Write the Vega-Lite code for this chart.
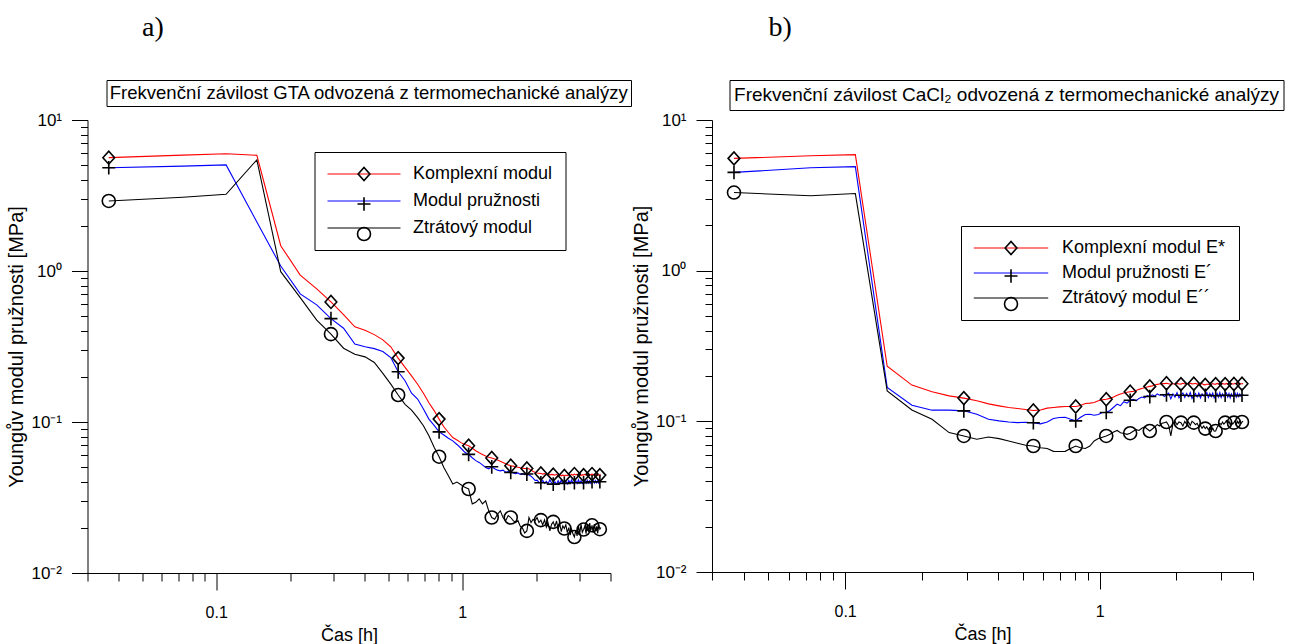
{
  "$schema": "https://vega.github.io/schema/vega-lite/v6.json",
  "padding": {"left": 6.5, "top": 13, "right": 4, "bottom": 2},
  "spacing": 0,
  "resolve": {
    "scale": {"color": "independent", "shape": "independent"},
    "legend": {"color": "independent", "shape": "independent"}
  },
  "datasets": {
    "gta": [
      {"t": 0.0366, "k": 5.63, "p": 4.83, "z": 2.91},
      {"t": 0.0732, "k": 5.85, "p": 4.95, "z": 3.08},
      {"t": 0.1097, "k": 5.98, "p": 5.04, "z": 3.22},
      {"t": 0.1463, "k": 5.84, "p": 2.11, "z": 5.45},
      {"t": 0.1829, "k": 1.47, "p": 1.08, "z": 0.99},
      {"t": 0.2195, "k": 0.94, "p": 0.705, "z": 0.667},
      {"t": 0.2561, "k": 0.762, "p": 0.597, "z": 0.4725},
      {"t": 0.2926, "k": 0.624, "p": 0.484, "z": 0.382},
      {"t": 0.3292, "k": 0.515, "p": 0.418, "z": 0.308},
      {"t": 0.3658, "k": 0.427, "p": 0.328, "z": 0.281},
      {"t": 0.4024, "k": 0.405, "p": 0.315, "z": 0.27},
      {"t": 0.439, "k": 0.379, "p": 0.306, "z": 0.248},
      {"t": 0.4755, "k": 0.35, "p": 0.293, "z": 0.21},
      {"t": 0.5121, "k": 0.315, "p": 0.267, "z": 0.178},
      {"t": 0.5487, "k": 0.265, "p": 0.215, "z": 0.151},
      {"t": 0.5853, "k": 0.23, "p": 0.1875, "z": 0.131},
      {"t": 0.6219, "k": 0.202, "p": 0.155, "z": 0.12},
      {"t": 0.6584, "k": 0.178, "p": 0.142, "z": 0.107},
      {"t": 0.695, "k": 0.155, "p": 0.122, "z": 0.0944},
      {"t": 0.7316, "k": 0.134, "p": 0.1045, "z": 0.081},
      {"t": 0.7682, "k": 0.119, "p": 0.095, "z": 0.068},
      {"t": 0.8048, "k": 0.1045, "p": 0.086, "z": 0.0589},
      {"t": 0.8413, "k": 0.093, "p": 0.082, "z": 0.05},
      {"t": 0.8779, "k": 0.0852, "p": 0.078, "z": 0.044},
      {"t": 0.9145, "k": 0.0789, "p": 0.075, "z": 0.0388},
      {"t": 0.9511, "k": 0.076, "p": 0.071, "z": 0.04},
      {"t": 0.9877, "k": 0.073, "p": 0.067, "z": 0.0384},
      {"t": 1.0242, "k": 0.071, "p": 0.063, "z": 0.0369},
      {"t": 1.0608, "k": 0.0696, "p": 0.061, "z": 0.036},
      {"t": 1.0974, "k": 0.067, "p": 0.058, "z": 0.0287},
      {"t": 1.134, "k": 0.0645, "p": 0.0555, "z": 0.0294},
      {"t": 1.1706, "k": 0.0625, "p": 0.054, "z": 0.031},
      {"t": 1.2071, "k": 0.061, "p": 0.052, "z": 0.0287},
      {"t": 1.2437, "k": 0.0595, "p": 0.05, "z": 0.0301},
      {"t": 1.2803, "k": 0.0585, "p": 0.049, "z": 0.0258},
      {"t": 1.3169, "k": 0.0577, "p": 0.0505, "z": 0.0233},
      {"t": 1.3535, "k": 0.0568, "p": 0.049, "z": 0.0227},
      {"t": 1.39, "k": 0.056, "p": 0.048, "z": 0.0245},
      {"t": 1.4266, "k": 0.055, "p": 0.0475, "z": 0.0258},
      {"t": 1.4632, "k": 0.054, "p": 0.048, "z": 0.0233},
      {"t": 1.4998, "k": 0.053, "p": 0.0465, "z": 0.0222},
      {"t": 1.5364, "k": 0.052, "p": 0.047, "z": 0.024},
      {"t": 1.5729, "k": 0.0513, "p": 0.0463, "z": 0.0233},
      {"t": 1.6095, "k": 0.051, "p": 0.046, "z": 0.0222},
      {"t": 1.6461, "k": 0.0505, "p": 0.0455, "z": 0.0216},
      {"t": 1.6827, "k": 0.0502, "p": 0.046, "z": 0.0222},
      {"t": 1.7193, "k": 0.0498, "p": 0.045, "z": 0.0204},
      {"t": 1.7558, "k": 0.0495, "p": 0.0455, "z": 0.0198},
      {"t": 1.7924, "k": 0.0492, "p": 0.0448, "z": 0.0184},
      {"t": 1.829, "k": 0.0492, "p": 0.0452, "z": 0.019},
      {"t": 1.8656, "k": 0.049, "p": 0.0445, "z": 0.0233},
      {"t": 1.9022, "k": 0.048, "p": 0.0438, "z": 0.0216},
      {"t": 1.9387, "k": 0.047, "p": 0.0425, "z": 0.0227},
      {"t": 1.9753, "k": 0.0465, "p": 0.041, "z": 0.0222},
      {"t": 2.0119, "k": 0.046, "p": 0.0412, "z": 0.0233},
      {"t": 2.0485, "k": 0.0458, "p": 0.0398, "z": 0.0216},
      {"t": 2.0851, "k": 0.0456, "p": 0.0396, "z": 0.0224},
      {"t": 2.1216, "k": 0.0452, "p": 0.041, "z": 0.0208},
      {"t": 2.1582, "k": 0.0455, "p": 0.0392, "z": 0.0225},
      {"t": 2.1948, "k": 0.0448, "p": 0.0405, "z": 0.0201},
      {"t": 2.2314, "k": 0.0452, "p": 0.039, "z": 0.0214},
      {"t": 2.268, "k": 0.0446, "p": 0.0415, "z": 0.019},
      {"t": 2.3045, "k": 0.045, "p": 0.0395, "z": 0.021},
      {"t": 2.3411, "k": 0.0448, "p": 0.0388, "z": 0.0218},
      {"t": 2.3777, "k": 0.0444, "p": 0.0402, "z": 0.0203},
      {"t": 2.4143, "k": 0.045, "p": 0.0386, "z": 0.0221},
      {"t": 2.4509, "k": 0.0442, "p": 0.0408, "z": 0.0195},
      {"t": 2.4874, "k": 0.0447, "p": 0.0391, "z": 0.0212},
      {"t": 2.524, "k": 0.044, "p": 0.0412, "z": 0.0188},
      {"t": 2.5606, "k": 0.0446, "p": 0.0393, "z": 0.0205},
      {"t": 2.5972, "k": 0.0439, "p": 0.0392, "z": 0.0197},
      {"t": 2.6338, "k": 0.0445, "p": 0.0406, "z": 0.0209},
      {"t": 2.6703, "k": 0.0441, "p": 0.0389, "z": 0.0185},
      {"t": 2.7069, "k": 0.0448, "p": 0.041, "z": 0.02},
      {"t": 2.7435, "k": 0.0443, "p": 0.0394, "z": 0.0178},
      {"t": 2.7801, "k": 0.045, "p": 0.0413, "z": 0.0195},
      {"t": 2.8167, "k": 0.0444, "p": 0.0392, "z": 0.0181},
      {"t": 2.8532, "k": 0.0452, "p": 0.0396, "z": 0.0173},
      {"t": 2.8898, "k": 0.0446, "p": 0.0409, "z": 0.0192},
      {"t": 2.9264, "k": 0.0451, "p": 0.0391, "z": 0.0176},
      {"t": 2.963, "k": 0.0443, "p": 0.0414, "z": 0.0206},
      {"t": 2.9996, "k": 0.0449, "p": 0.0395, "z": 0.0183},
      {"t": 3.0361, "k": 0.0442, "p": 0.0407, "z": 0.021},
      {"t": 3.0727, "k": 0.0448, "p": 0.039, "z": 0.0186},
      {"t": 3.1093, "k": 0.0445, "p": 0.0396, "z": 0.0194},
      {"t": 3.1459, "k": 0.045, "p": 0.041, "z": 0.0204},
      {"t": 3.1825, "k": 0.0443, "p": 0.0393, "z": 0.0182},
      {"t": 3.219, "k": 0.0449, "p": 0.0412, "z": 0.0209},
      {"t": 3.2556, "k": 0.0444, "p": 0.0395, "z": 0.0188},
      {"t": 3.2922, "k": 0.0451, "p": 0.0408, "z": 0.0214},
      {"t": 3.3288, "k": 0.0445, "p": 0.0392, "z": 0.0192},
      {"t": 3.3654, "k": 0.0452, "p": 0.0402, "z": 0.0207},
      {"t": 3.4019, "k": 0.0446, "p": 0.0411, "z": 0.0185},
      {"t": 3.4385, "k": 0.045, "p": 0.0394, "z": 0.0211},
      {"t": 3.4751, "k": 0.0443, "p": 0.041, "z": 0.0189},
      {"t": 3.5117, "k": 0.0449, "p": 0.0396, "z": 0.0204},
      {"t": 3.5483, "k": 0.0442, "p": 0.0408, "z": 0.0183},
      {"t": 3.5848, "k": 0.0448, "p": 0.0393, "z": 0.0209},
      {"t": 3.6214, "k": 0.0445, "p": 0.0402, "z": 0.0195},
      {"t": 3.658, "k": 0.0447, "p": 0.0405, "z": 0.02}
    ],
    "cacl2": [
      {"t": 0.0366, "k": 5.56, "p": 4.49, "z": 3.3},
      {"t": 0.0732, "k": 5.79, "p": 4.82, "z": 3.14},
      {"t": 0.1097, "k": 5.89, "p": 4.9, "z": 3.25},
      {"t": 0.1463, "k": 0.232, "p": 0.168, "z": 0.1594},
      {"t": 0.1829, "k": 0.174, "p": 0.128, "z": 0.119},
      {"t": 0.2195, "k": 0.157, "p": 0.1186, "z": 0.1032},
      {"t": 0.2561, "k": 0.1476, "p": 0.1186, "z": 0.0842},
      {"t": 0.2926, "k": 0.1426, "p": 0.1174, "z": 0.08},
      {"t": 0.3292, "k": 0.1368, "p": 0.1114, "z": 0.076},
      {"t": 0.3658, "k": 0.1306, "p": 0.1032, "z": 0.0787},
      {"t": 0.4024, "k": 0.1267, "p": 0.1007, "z": 0.0768},
      {"t": 0.439, "k": 0.1236, "p": 0.0991, "z": 0.0741},
      {"t": 0.4755, "k": 0.1217, "p": 0.0981, "z": 0.0715},
      {"t": 0.5121, "k": 0.1198, "p": 0.0985, "z": 0.0693},
      {"t": 0.5487, "k": 0.118, "p": 0.0978, "z": 0.0686},
      {"t": 0.5853, "k": 0.119, "p": 0.0962, "z": 0.0668},
      {"t": 0.6219, "k": 0.1223, "p": 0.0991, "z": 0.066},
      {"t": 0.6584, "k": 0.1236, "p": 0.1045, "z": 0.0632},
      {"t": 0.695, "k": 0.1247, "p": 0.106, "z": 0.063},
      {"t": 0.7316, "k": 0.1255, "p": 0.1065, "z": 0.0632},
      {"t": 0.7682, "k": 0.1255, "p": 0.1032, "z": 0.066},
      {"t": 0.8048, "k": 0.1255, "p": 0.1007, "z": 0.0686},
      {"t": 0.8413, "k": 0.1273, "p": 0.1065, "z": 0.0668},
      {"t": 0.8779, "k": 0.1314, "p": 0.111, "z": 0.066},
      {"t": 0.9145, "k": 0.132, "p": 0.1114, "z": 0.0686},
      {"t": 0.9511, "k": 0.1333, "p": 0.1097, "z": 0.0741},
      {"t": 0.9877, "k": 0.1368, "p": 0.111, "z": 0.0768},
      {"t": 1.0242, "k": 0.139, "p": 0.1144, "z": 0.0785},
      {"t": 1.0608, "k": 0.14, "p": 0.1144, "z": 0.08},
      {"t": 1.0974, "k": 0.142, "p": 0.118, "z": 0.082},
      {"t": 1.134, "k": 0.145, "p": 0.124, "z": 0.085},
      {"t": 1.1706, "k": 0.149, "p": 0.13, "z": 0.087},
      {"t": 1.2071, "k": 0.152, "p": 0.127, "z": 0.084},
      {"t": 1.2437, "k": 0.154, "p": 0.135, "z": 0.083},
      {"t": 1.2803, "k": 0.156, "p": 0.132, "z": 0.082},
      {"t": 1.3169, "k": 0.157, "p": 0.138, "z": 0.0834},
      {"t": 1.3535, "k": 0.158, "p": 0.14, "z": 0.086},
      {"t": 1.39, "k": 0.16, "p": 0.137, "z": 0.088},
      {"t": 1.4266, "k": 0.163, "p": 0.142, "z": 0.087},
      {"t": 1.4632, "k": 0.165, "p": 0.145, "z": 0.09},
      {"t": 1.4998, "k": 0.167, "p": 0.143, "z": 0.092},
      {"t": 1.5364, "k": 0.169, "p": 0.148, "z": 0.089},
      {"t": 1.5729, "k": 0.1706, "p": 0.146, "z": 0.0863},
      {"t": 1.6095, "k": 0.172, "p": 0.15, "z": 0.089},
      {"t": 1.6461, "k": 0.174, "p": 0.147, "z": 0.092},
      {"t": 1.6827, "k": 0.176, "p": 0.152, "z": 0.095},
      {"t": 1.7193, "k": 0.177, "p": 0.149, "z": 0.093},
      {"t": 1.7558, "k": 0.178, "p": 0.151, "z": 0.097},
      {"t": 1.7924, "k": 0.178, "p": 0.146, "z": 0.098},
      {"t": 1.829, "k": 0.179, "p": 0.15, "z": 0.099},
      {"t": 1.8656, "k": 0.1775, "p": 0.154, "z": 0.094},
      {"t": 1.9022, "k": 0.176, "p": 0.141, "z": 0.08},
      {"t": 1.9387, "k": 0.178, "p": 0.152, "z": 0.096},
      {"t": 1.9753, "k": 0.1765, "p": 0.145, "z": 0.1},
      {"t": 2.0119, "k": 0.1785, "p": 0.155, "z": 0.095},
      {"t": 2.0485, "k": 0.177, "p": 0.143, "z": 0.099},
      {"t": 2.0851, "k": 0.1766, "p": 0.149, "z": 0.098},
      {"t": 2.1216, "k": 0.179, "p": 0.154, "z": 0.093},
      {"t": 2.1582, "k": 0.1772, "p": 0.144, "z": 0.1},
      {"t": 2.1948, "k": 0.1788, "p": 0.153, "z": 0.096},
      {"t": 2.2314, "k": 0.1768, "p": 0.146, "z": 0.099},
      {"t": 2.268, "k": 0.179, "p": 0.155, "z": 0.094},
      {"t": 2.3045, "k": 0.1774, "p": 0.142, "z": 0.1},
      {"t": 2.3411, "k": 0.1775, "p": 0.148, "z": 0.098},
      {"t": 2.3777, "k": 0.1786, "p": 0.153, "z": 0.095},
      {"t": 2.4143, "k": 0.1762, "p": 0.145, "z": 0.097},
      {"t": 2.4509, "k": 0.1784, "p": 0.154, "z": 0.092},
      {"t": 2.4874, "k": 0.1758, "p": 0.143, "z": 0.094},
      {"t": 2.524, "k": 0.178, "p": 0.152, "z": 0.09},
      {"t": 2.5606, "k": 0.1752, "p": 0.147, "z": 0.093},
      {"t": 2.5972, "k": 0.1745, "p": 0.149, "z": 0.0895},
      {"t": 2.6338, "k": 0.1768, "p": 0.155, "z": 0.092},
      {"t": 2.6703, "k": 0.1755, "p": 0.144, "z": 0.088},
      {"t": 2.7069, "k": 0.1776, "p": 0.153, "z": 0.091},
      {"t": 2.7435, "k": 0.176, "p": 0.146, "z": 0.087},
      {"t": 2.7801, "k": 0.1782, "p": 0.154, "z": 0.09},
      {"t": 2.8167, "k": 0.1764, "p": 0.143, "z": 0.086},
      {"t": 2.8532, "k": 0.1766, "p": 0.148, "z": 0.0863},
      {"t": 2.8898, "k": 0.1785, "p": 0.153, "z": 0.091},
      {"t": 2.9264, "k": 0.1768, "p": 0.145, "z": 0.094},
      {"t": 2.963, "k": 0.1787, "p": 0.155, "z": 0.097},
      {"t": 2.9996, "k": 0.1765, "p": 0.144, "z": 0.095},
      {"t": 3.0361, "k": 0.1784, "p": 0.152, "z": 0.099},
      {"t": 3.0727, "k": 0.1768, "p": 0.146, "z": 0.096},
      {"t": 3.1093, "k": 0.1766, "p": 0.149, "z": 0.098},
      {"t": 3.1459, "k": 0.1786, "p": 0.154, "z": 0.101},
      {"t": 3.1825, "k": 0.1769, "p": 0.145, "z": 0.097},
      {"t": 3.219, "k": 0.1788, "p": 0.153, "z": 0.1},
      {"t": 3.2556, "k": 0.1767, "p": 0.143, "z": 0.095},
      {"t": 3.2922, "k": 0.1785, "p": 0.152, "z": 0.099},
      {"t": 3.3288, "k": 0.177, "p": 0.147, "z": 0.096},
      {"t": 3.3654, "k": 0.1768, "p": 0.148, "z": 0.098},
      {"t": 3.4019, "k": 0.1787, "p": 0.154, "z": 0.101},
      {"t": 3.4385, "k": 0.1771, "p": 0.145, "z": 0.095},
      {"t": 3.4751, "k": 0.1789, "p": 0.153, "z": 0.1},
      {"t": 3.5117, "k": 0.1772, "p": 0.146, "z": 0.097},
      {"t": 3.5483, "k": 0.1786, "p": 0.152, "z": 0.101},
      {"t": 3.5848, "k": 0.177, "p": 0.147, "z": 0.096},
      {"t": 3.6214, "k": 0.1775, "p": 0.149, "z": 0.099},
      {"t": 3.658, "k": 0.178, "p": 0.151, "z": 0.1}
    ]
  },
  "vconcat": [
    {
      "spacing": 0,
      "hconcat": [
        {
          "width": 18,
          "height": 26,
          "data": {"values": []},
          "mark": {"type": "text"},
          "encoding": {}
        },
        {
          "width": 524.5,
          "height": 26,
          "view": {"stroke": "#000", "strokeWidth": 1},
          "title": {"text": "a)", "anchor": "start", "dx": 35.5, "offset": 38, "font": "Liberation Serif", "fontSize": 28, "fontWeight": "normal", "color": "#000"},
          "data": {"values": [{"label": "Frekvenční závilost GTA odvozená z termomechanické analýzy"}]},
          "mark": {"type": "text", "font": "Liberation Sans", "fontSize": 18.5, "color": "#000"},
          "encoding": {"text": {"field": "label", "type": "nominal"}}
        },
        {
          "width": 97,
          "height": 26,
          "data": {"values": []},
          "mark": {"type": "text"},
          "encoding": {}
        },
        {
          "width": 554,
          "height": 30,
          "view": {"stroke": "#000", "strokeWidth": 1},
          "title": {"text": "b)", "anchor": "start", "dx": 39, "offset": 38, "font": "Liberation Serif", "fontSize": 28, "fontWeight": "normal", "color": "#000"},
          "data": {"values": [{"label": "Frekvenční závilost CaCl₂ odvozená z termomechanické analýzy"}]},
          "mark": {"type": "text", "font": "Liberation Sans", "fontSize": 19, "color": "#000"},
          "encoding": {"text": {"field": "label", "type": "nominal"}}
        }
      ]
    },
    {
      "spacing": 19.5,
      "resolve": {
        "scale": {"color": "independent", "shape": "independent"},
        "legend": {"color": "independent", "shape": "independent"}
      },
      "hconcat": [
        {
          "width": 523,
          "height": 453,
          "data": {"name": "gta"},
          "transform": [{"fold": ["k", "p", "z"], "as": ["key", "v"]}],
          "encoding": {
            "x": {
              "field": "t", "type": "quantitative",
              "scale": {"type": "log", "domain": [0.03, 4], "nice": false},
              "axis": {
                "title": "Čas [h]", "titleFontSize": 18, "titlePadding": 6,
                "values": [0.03, 0.04, 0.05, 0.06, 0.07, 0.08, 0.09, 0.1, 0.2, 0.3, 0.4, 0.5, 0.6, 0.7, 0.8, 0.9, 1, 2, 3, 4],
                "labelExpr": "datum.value == 0.1 ? '0.1' : datum.value == 1 ? '1' : ''",
                "tickSize": {"condition": {"test": "indexof([0.1, 1], datum.value) >= 0", "value": 17}, "value": 8},
                "labelPadding": 14, "labelFontSize": 16, "labelOverlap": false, "labelFlush": false
              }
            },
            "y": {
              "field": "v", "type": "quantitative",
              "scale": {"type": "log", "domain": [0.01, 10], "nice": false},
              "axis": {
                "title": "Youngův modul pružnosti [MPa]", "titleFontSize": 20, "titlePadding": 4,
                "values": [0.01, 0.02, 0.03, 0.04, 0.05, 0.06, 0.07, 0.08, 0.09, 0.1, 0.2, 0.3, 0.4, 0.5, 0.6, 0.7, 0.8, 0.9, 1, 2, 3, 4, 5, 6, 7, 8, 9, 10],
                "labelExpr": "datum.value == 10 ? '10¹' : datum.value == 1 ? '10⁰' : datum.value == 0.1 ? '10⁻¹' : datum.value == 0.01 ? '10⁻²' : ''",
                "tickSize": {"condition": {"test": "indexof([0.01, 0.1, 1, 10], datum.value) >= 0", "value": 16}, "value": 7},
                "labelPadding": 10, "labelFontSize": 17, "labelOverlap": false, "labelFlush": false
              }
            }
          },
          "layer": [
            {
              "mark": {"type": "line", "strokeWidth": 1.1},
              "encoding": {
                "color": {
                  "field": "key", "type": "nominal",
                  "scale": {"range": ["#ff0000", "#0000ff", "#000000"]},
                  "legend": {
                    "orient": "none", "legendX": 227, "legendY": 32, "title": null,
                    "symbolType": "M-6.08,0H6.08", "symbolSize": 144, "symbolStrokeWidth": 1.2,
                    "symbolOffset": 27.5, "labelOffset": 40, "rowPadding": 9, "padding": 13,
                    "strokeColor": "#000", "labelFontSize": 18, "labelLimit": 400,
                    "labelExpr": "datum.label == 'k' ? 'Komplexní modul' : datum.label == 'p' ? 'Modul pružnosti' : 'Ztrátový modul'"
                  }
                }
              }
            },
            {
              "transform": [
                {"window": [{"op": "row_number", "as": "i"}], "groupby": ["key"], "sort": [{"field": "t"}]},
                {"filter": "(datum.i - 1) % 7 == 0"}
              ],
              "mark": {"type": "point", "filled": false, "color": "#000", "strokeWidth": 1.6, "size": 169, "opacity": 1},
              "encoding": {
                "shape": {
                  "field": "key", "type": "nominal",
                  "scale": {"domain": ["k", "p", "z"], "range": ["M-0.9,0L0,-1L0.9,0L0,1Z", "M-1,0H1M0,-1.05V1.05", "circle"]},
                  "legend": {
                    "orient": "none", "legendX": 227, "legendY": 32, "title": null,
                    "symbolSize": 169, "symbolStrokeWidth": 1.6, "symbolStrokeColor": "#000", "symbolFillColor": "transparent",
                    "symbolOffset": 27.5, "labelOffset": 40, "rowPadding": 9, "padding": 13,
                    "labelFontSize": 18, "labelOpacity": 0, "labelLimit": 400,
                    "labelExpr": "datum.label == 'k' ? 'Komplexní modul' : datum.label == 'p' ? 'Modul pružnosti' : 'Ztrátový modul'"
                  }
                }
              }
            }
          ]
        },
        {
          "width": 541,
          "height": 452,
          "data": {"name": "cacl2"},
          "transform": [{"fold": ["k", "p", "z"], "as": ["key", "v"]}],
          "encoding": {
            "x": {
              "field": "t", "type": "quantitative",
              "scale": {"type": "log", "domain": [0.03, 4], "nice": false},
              "axis": {
                "title": "Čas [h]", "titleFontSize": 18, "titlePadding": 6,
                "values": [0.03, 0.04, 0.05, 0.06, 0.07, 0.08, 0.09, 0.1, 0.2, 0.3, 0.4, 0.5, 0.6, 0.7, 0.8, 0.9, 1, 2, 3, 4],
                "labelExpr": "datum.value == 0.1 ? '0.1' : datum.value == 1 ? '1' : ''",
                "tickSize": {"condition": {"test": "indexof([0.1, 1], datum.value) >= 0", "value": 17}, "value": 8},
                "labelPadding": 14, "labelFontSize": 16, "labelOverlap": false, "labelFlush": false
              }
            },
            "y": {
              "field": "v", "type": "quantitative",
              "scale": {"type": "log", "domain": [0.01, 10], "nice": false},
              "axis": {
                "title": "Youngův modul pružnosti [MPa]", "titleFontSize": 20, "titlePadding": 4,
                "values": [0.01, 0.02, 0.03, 0.04, 0.05, 0.06, 0.07, 0.08, 0.09, 0.1, 0.2, 0.3, 0.4, 0.5, 0.6, 0.7, 0.8, 0.9, 1, 2, 3, 4, 5, 6, 7, 8, 9, 10],
                "labelExpr": "datum.value == 10 ? '10¹' : datum.value == 1 ? '10⁰' : datum.value == 0.1 ? '10⁻¹' : datum.value == 0.01 ? '10⁻²' : ''",
                "tickSize": {"condition": {"test": "indexof([0.01, 0.1, 1, 10], datum.value) >= 0", "value": 16}, "value": 7},
                "labelPadding": 10, "labelFontSize": 17, "labelOverlap": false, "labelFlush": false
              }
            }
          },
          "layer": [
            {
              "mark": {"type": "line", "strokeWidth": 1.1},
              "encoding": {
                "color": {
                  "field": "key", "type": "nominal",
                  "scale": {"range": ["#ff0000", "#0000ff", "#000000"]},
                  "legend": {
                    "orient": "none", "legendX": 249, "legendY": 106, "title": null,
                    "symbolType": "M-6.2,0H6.2", "symbolSize": 144, "symbolStrokeWidth": 1.2,
                    "symbolOffset": 28, "labelOffset": 42, "rowPadding": 7, "padding": 13,
                    "strokeColor": "#000", "labelFontSize": 18, "labelLimit": 400,
                    "labelExpr": "datum.label == 'k' ? 'Komplexní modul E*' : datum.label == 'p' ? 'Modul pružnosti E´' : 'Ztrátový modul E´´'"
                  }
                }
              }
            },
            {
              "transform": [
                {"window": [{"op": "row_number", "as": "i"}], "groupby": ["key"], "sort": [{"field": "t"}]},
                {"filter": "(datum.i - 1) % 7 == 0"}
              ],
              "mark": {"type": "point", "filled": false, "color": "#000", "strokeWidth": 1.6, "size": 169, "opacity": 1},
              "encoding": {
                "shape": {
                  "field": "key", "type": "nominal",
                  "scale": {"domain": ["k", "p", "z"], "range": ["M-0.9,0L0,-1L0.9,0L0,1Z", "M-1,0H1M0,-1.05V1.05", "circle"]},
                  "legend": {
                    "orient": "none", "legendX": 249, "legendY": 106, "title": null,
                    "symbolSize": 169, "symbolStrokeWidth": 1.6, "symbolStrokeColor": "#000", "symbolFillColor": "transparent",
                    "symbolOffset": 28, "labelOffset": 42, "rowPadding": 7, "padding": 13,
                    "labelFontSize": 18, "labelOpacity": 0, "labelLimit": 400,
                    "labelExpr": "datum.label == 'k' ? 'Komplexní modul E*' : datum.label == 'p' ? 'Modul pružnosti E´' : 'Ztrátový modul E´´'"
                  }
                }
              }
            }
          ]
        }
      ]
    }
  ],
  "config": {
    "font": "Liberation Sans",
    "view": {"stroke": null},
    "axis": {
      "grid": false, "labelFont": "Liberation Sans", "titleFont": "Liberation Sans",
      "labelColor": "#000", "titleColor": "#000", "domainColor": "#000", "tickColor": "#000",
      "domainWidth": 1, "tickWidth": 1, "titleFontWeight": "normal"
    },
    "legend": {"labelFont": "Liberation Sans", "labelColor": "#000"}
  }
}
